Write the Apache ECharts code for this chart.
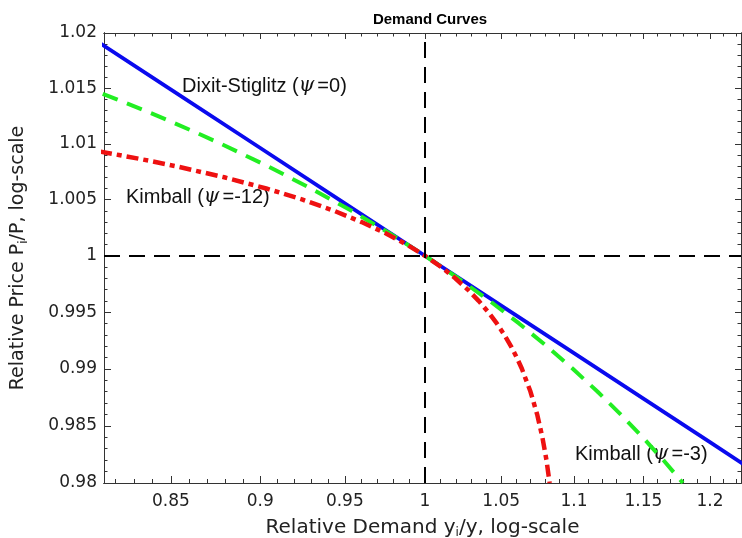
<!DOCTYPE html>
<html><head><meta charset="utf-8">
<script src="https://cdn.jsdelivr.net/npm/echarts@6/dist/echarts.min.js"></script>
<style>html,body{margin:0;padding:0;background:#fff}#c{width:742px;height:538px}</style>
</head><body><div id="c"></div>
<script>
// ---- tick labels ----
const xTickLabels = [0.85, 0.9, 0.95, 1, 1.05, 1.1, 1.15, 1.2];
const xMinorTicks = [0.82,0.83,0.84,0.86,0.87,0.88,0.89,0.91,0.92,0.93,0.94,0.96,0.97,0.98,0.99,
  1.01,1.02,1.03,1.04,1.06,1.07,1.08,1.09,1.11,1.12,1.13,1.14,1.16,1.17,1.18,1.19,1.21,1.22];
const yTickLabels = [0.98, 0.985, 0.99, 0.995, 1, 1.005, 1.01, 1.015, 1.02];
const yMinorTicks = [0.981,0.982,0.983,0.984,0.986,0.987,0.988,0.989,0.991,0.992,0.993,0.994,
  0.996,0.997,0.998,0.999,1.001,1.002,1.003,1.004,1.006,1.007,1.008,1.009,1.011,1.012,1.013,1.014,
  1.016,1.017,1.018,1.019];
const xRange = [0.81434, 1.22409];
const yRange = [0.98, 1.02];

// ---- Dixit-Stiglitz (psi = 0) ----
const dsDemand = [0.81, 0.85, 0.9, 0.95, 1, 1.05, 1.1, 1.15, 1.2, 1.23];
const dsPrice  = [1.019341, 1.014885, 1.009624, 1.004674, 1, 0.995575, 0.991373, 0.987375, 0.983562, 0.981357];

// ---- Kimball (psi = -3) ----
const k3Demand = [0.81369, 0.82109, 0.83568, 0.84995, 0.86394, 0.87764, 0.90420, 0.92967, 0.95411, 0.97753, 1,
  1.02155, 1.04220, 1.06201, 1.08099, 1.09919, 1.11663, 1.13335, 1.14936, 1.16471, 1.17942];
const k3Price  = [1.0145, 1.014, 1.013, 1.012, 1.011, 1.010, 1.008, 1.006, 1.004, 1.002, 1.0,
  0.998, 0.996, 0.994, 0.992, 0.990, 0.988, 0.986, 0.984, 0.982, 0.980];

// ---- Kimball (psi = -12) ----
const k12Demand = [0.81226, 0.82210, 0.83775, 0.85250, 0.87948, 0.90343, 0.92469, 0.94355, 0.96028, 0.97514, 0.98831, 1,
  1.01037, 1.01956, 1.02771, 1.03494, 1.04134, 1.04702, 1.05205, 1.05651, 1.06046, 1.06397,
  1.06981, 1.07440, 1.07800, 1.08082, 1.08302];
const k12Price  = [1.0093, 1.009, 1.0085, 1.008, 1.007, 1.006, 1.005, 1.004, 1.003, 1.002, 1.001, 1.0,
  0.999, 0.998, 0.997, 0.996, 0.995, 0.994, 0.993, 0.992, 0.991, 0.990,
  0.988, 0.986, 0.984, 0.982, 0.980];

const FONT = 'Liberation Sans, Arial, Helvetica, sans-serif';
const WFONT = 'DejaVu Sans, Liberation Sans, sans-serif';
const zip = (a, b) => a.map((v, i) => [v, b[i]]);
const fmt = v => String(+(+v).toFixed(3));
const AX = '#333';

// main (log) axes: line + labels
function mainAxis(dim, pos, range, labels, extra) {
  return Object.assign({
    type: 'log', logBase: 10, position: pos, min: range[0], max: range[1],
    axisLine: { show: true, onZero: false, lineStyle: { color: AX, width: 1 } },
    axisTick: { show: false },
    axisLabel: { show: true, customValues: labels, formatter: fmt, fontFamily: WFONT, fontSize: 17, color: '#222', margin: dim === 'x' ? 10 : 7 },
    splitLine: { show: false }, minorTick: { show: false }, minorSplitLine: { show: false }
  }, extra || {});
}
// tick-only axes in natural-log space (same extent as the log axes)
function tickAxis(pos, range, ticks, len) {
  return {
    type: 'value', position: pos, min: Math.log(range[0]), max: Math.log(range[1]),
    axisLine: { show: true, onZero: false, lineStyle: { color: AX, width: 1 } },
    axisTick: { show: true, inside: true, length: len, customValues: ticks.map(Math.log), lineStyle: { color: AX, width: 1 } },
    axisLabel: { show: false },
    splitLine: { show: false }, minorTick: { show: false }, minorSplitLine: { show: false }
  };
}

const nameStyle = (fs) => ({ fontFamily: WFONT, fontSize: fs, color: '#222',
  rich: { s: { fontFamily: WFONT, fontSize: 12, color: '#222', verticalAlign: 'bottom', padding: [11, 0, 0, 0] } } });

const chart = echarts.init(document.getElementById('c'), null, { renderer: 'canvas' });
chart.setOption({
  animation: false,
  backgroundColor: '#fff',
  title: { text: 'Demand Curves', left: 425, top: 7, textAlign: 'center',
    textStyle: { fontFamily: FONT, fontWeight: 'bold', fontSize: 15, color: '#000' } },
  grid: { left: 104, right: 1, top: 33, bottom: 55, containLabel: false, outerBoundsMode: 'none' },
  xAxis: [
    mainAxis('x', 'bottom', xRange, xTickLabels, {
      name: 'Relative Demand y{s|i}/y, log-scale', nameLocation: 'middle', nameGap: 33, nameTextStyle: nameStyle(20)
    }),
    tickAxis('bottom', xRange, xTickLabels, 7),
    tickAxis('bottom', xRange, xMinorTicks, 4),
    tickAxis('top', xRange, xTickLabels, 6),
    tickAxis('top', xRange, xMinorTicks, 3.5)
  ],
  yAxis: [
    mainAxis('y', 'left', yRange, yTickLabels, {
      name: 'Relative Price P{s|i}/P, log-scale', nameLocation: 'middle', nameGap: 74, nameRotate: 90, nameTextStyle: nameStyle(19)
    }),
    tickAxis('left', yRange, yTickLabels, 7),
    tickAxis('left', yRange, yMinorTicks, 3.5),
    tickAxis('right', yRange, yTickLabels, 6),
    tickAxis('right', yRange, yMinorTicks, 3.5)
  ],
  series: [
    {
      type: 'line', data: [], xAxisIndex: 0, yAxisIndex: 0, silent: true,
      markLine: {
        silent: true, symbol: 'none', label: { show: false },
        lineStyle: { color: '#000', width: 2, type: [16, 9] },
        data: [{ xAxis: 1 }, { yAxis: 1 }]
      }
    },
    {
      name: 'Dixit-Stiglitz', type: 'line', data: zip(dsDemand, dsPrice), showSymbol: false, symbol: 'none',
      clip: true, lineStyle: { color: '#0a0aee', width: 3.8, type: 'solid' }
    },
    {
      name: 'Kimball -3', type: 'line', data: zip(k3Demand, k3Price), showSymbol: false, symbol: 'none',
      clip: true, lineStyle: { color: '#22ee22', width: 4, type: [16, 10] }
    },
    {
      name: 'Kimball -12', type: 'line', data: zip(k12Demand, k12Price), showSymbol: false, symbol: 'none',
      clip: true, lineStyle: { color: '#ee1111', width: 4.5, type: [12, 5, 5, 5] }
    }
  ],
  graphic: [
    { type: 'text', left: 182, top: 76, style: { text: 'Dixit-Stiglitz ({p|ψ}=0)', fontFamily: FONT, fontSize: 20, fill: '#111',
      rich: { p: { fontFamily: 'DejaVu Serif', fontStyle: 'italic', fontSize: 20, fill: '#111', padding: [0, 3, 0, 0] } } } },
    { type: 'text', left: 126, top: 187, style: { text: 'Kimball ({p|ψ}=-12)', fontFamily: FONT, fontSize: 20, fill: '#111',
      rich: { p: { fontFamily: 'DejaVu Serif', fontStyle: 'italic', fontSize: 20, fill: '#111', padding: [0, 3, 0, 0] } } } },
    { type: 'text', left: 575, top: 444, style: { text: 'Kimball ({p|ψ}=-3)', fontFamily: FONT, fontSize: 20, fill: '#111',
      rich: { p: { fontFamily: 'DejaVu Serif', fontStyle: 'italic', fontSize: 20, fill: '#111', padding: [0, 3, 0, 0] } } } }
  ]
});
</script></body></html>
